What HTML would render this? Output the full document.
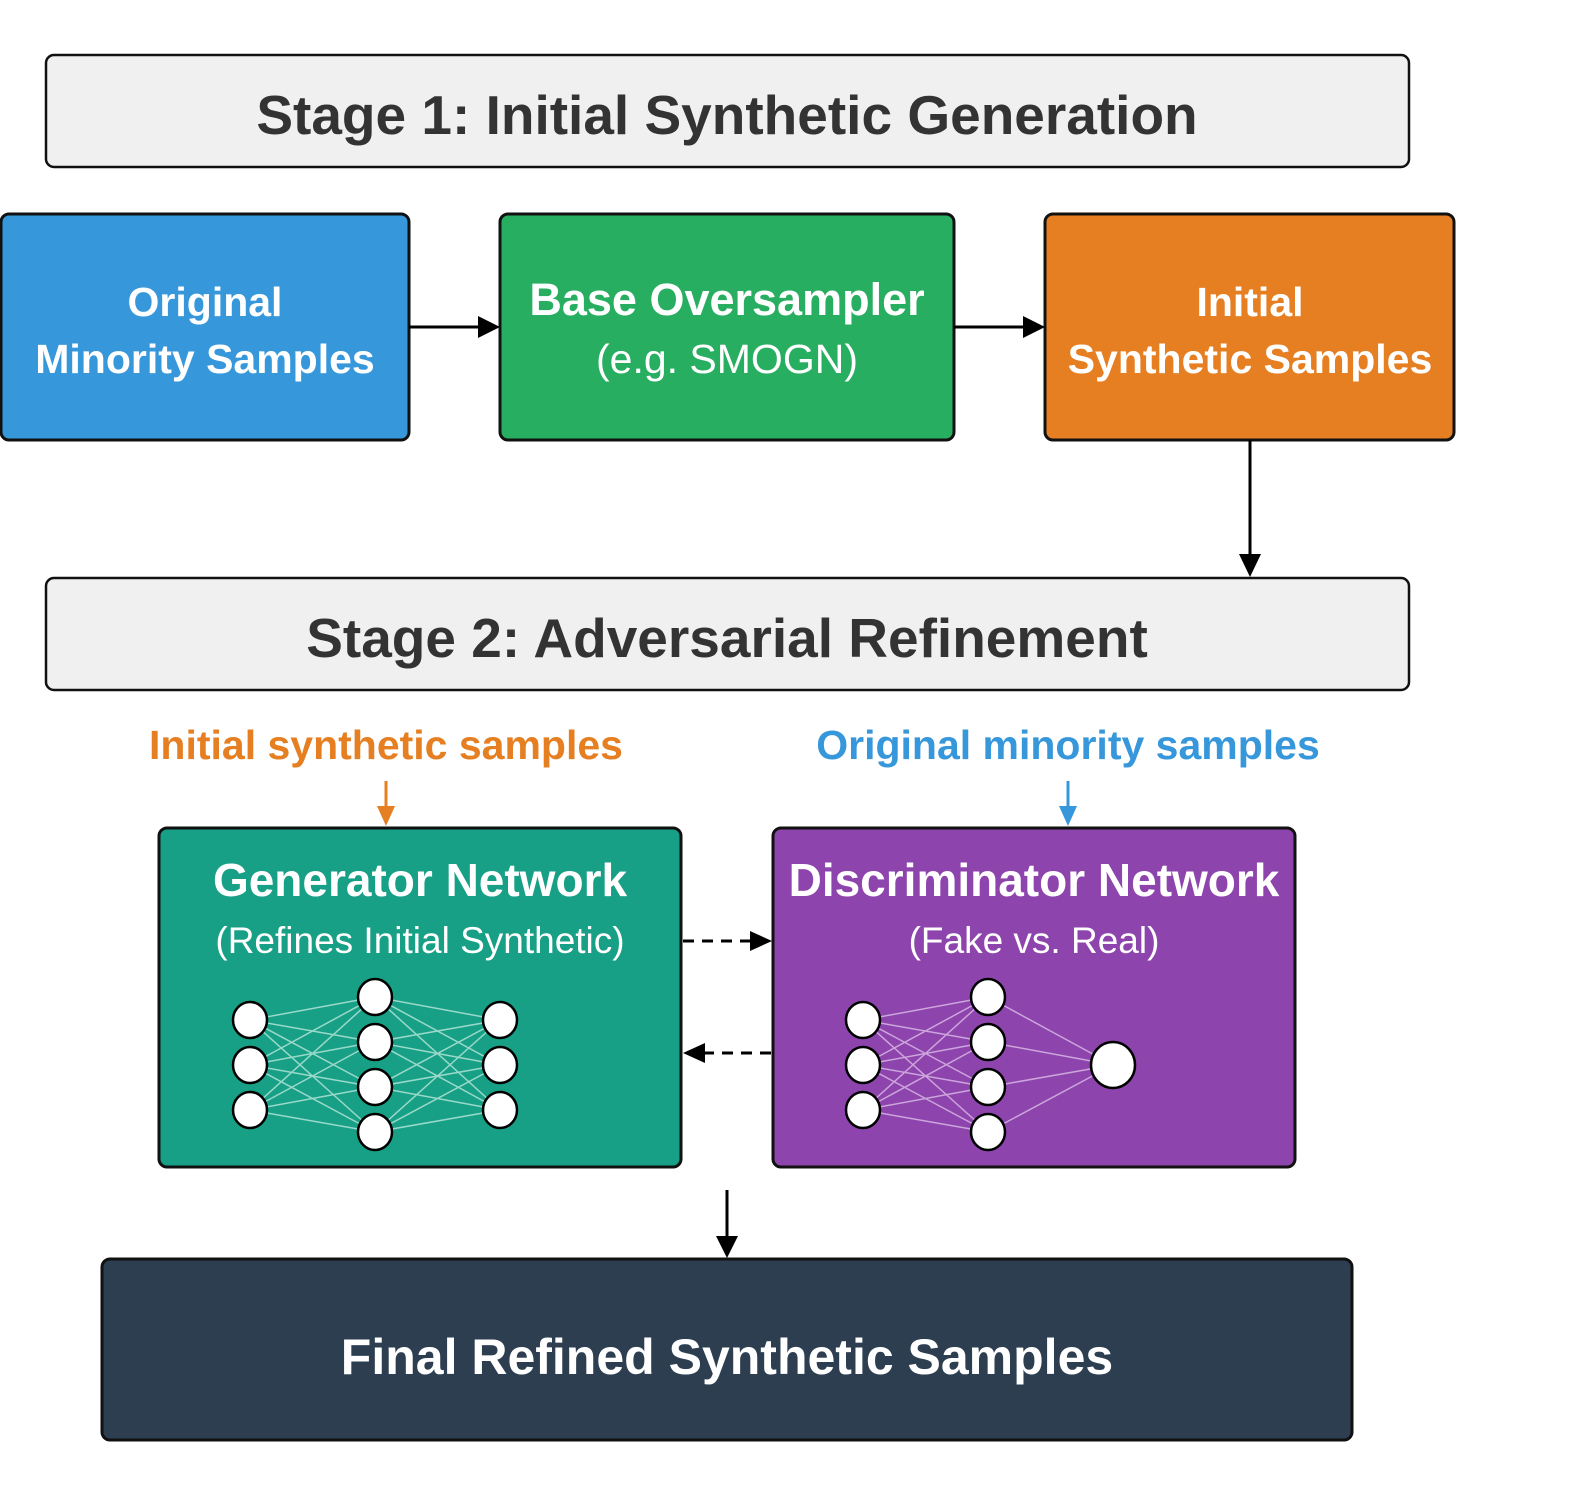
<!DOCTYPE html>
<html><head><meta charset="utf-8"><style>
html,body{margin:0;padding:0;background:#fff}
svg{display:block}
text{font-family:"Liberation Sans",Arial,sans-serif}
</style></head><body>
<svg width="1578" height="1505" viewBox="0 0 1578 1505" xmlns="http://www.w3.org/2000/svg">
<!-- Stage 1 -->
<rect x="46" y="55" width="1363" height="112" rx="8" fill="#f0f0f0" stroke="#111" stroke-width="2.5"/>
<text x="727" y="134" text-anchor="middle" font-size="55" font-weight="bold" fill="#333">Stage 1: Initial Synthetic Generation</text>

<rect x="1" y="214" width="408" height="226" rx="8" fill="#3797db" stroke="#111" stroke-width="3"/>
<text x="205" y="316" text-anchor="middle" font-size="41" font-weight="bold" fill="#fff">Original</text>
<text x="205" y="373" text-anchor="middle" font-size="41" font-weight="bold" fill="#fff">Minority Samples</text>

<rect x="500" y="214" width="454" height="226" rx="8" fill="#28ae60" stroke="#111" stroke-width="3"/>
<text x="727" y="315" text-anchor="middle" font-size="45" font-weight="bold" fill="#fff">Base Oversampler</text>
<text x="727" y="373" text-anchor="middle" font-size="41" fill="#fff">(e.g. SMOGN)</text>

<rect x="1045" y="214" width="409" height="226" rx="8" fill="#e67f22" stroke="#111" stroke-width="3"/>
<text x="1250" y="316" text-anchor="middle" font-size="41" font-weight="bold" fill="#fff">Initial</text>
<text x="1250" y="373" text-anchor="middle" font-size="41" font-weight="bold" fill="#fff">Synthetic Samples</text>

<line x1="409" y1="327" x2="480" y2="327" stroke="#000" stroke-width="3"/>
<polygon points="478,316 500,327 478,338" fill="#000"/>
<line x1="954" y1="327" x2="1025" y2="327" stroke="#000" stroke-width="3"/>
<polygon points="1023,316 1045,327 1023,338" fill="#000"/>
<line x1="1250" y1="440" x2="1250" y2="556" stroke="#000" stroke-width="3"/>
<polygon points="1239,554 1250,577 1261,554" fill="#000"/>

<!-- Stage 2 -->
<rect x="46" y="578" width="1363" height="112" rx="8" fill="#f0f0f0" stroke="#111" stroke-width="2.5"/>
<text x="727" y="657" text-anchor="middle" font-size="55" font-weight="bold" fill="#333">Stage 2: Adversarial Refinement</text>

<text x="386" y="759" text-anchor="middle" font-size="41" font-weight="bold" fill="#e67f22">Initial synthetic samples</text>
<text x="1068" y="759" text-anchor="middle" font-size="41" font-weight="bold" fill="#3797db">Original minority samples</text>
<line x1="386" y1="781" x2="386" y2="810" stroke="#e67f22" stroke-width="3"/>
<polygon points="377,806 386,826 395,806" fill="#e67f22"/>
<line x1="1068" y1="781" x2="1068" y2="810" stroke="#3797db" stroke-width="3"/>
<polygon points="1059,806 1068,826 1077,806" fill="#3797db"/>

<rect x="159" y="828" width="522" height="339" rx="8" fill="#17a086" stroke="#111" stroke-width="3"/>
<text x="420" y="896" text-anchor="middle" font-size="46" font-weight="bold" fill="#fff">Generator Network</text>
<text x="420" y="953" text-anchor="middle" font-size="37" fill="#fff">(Refines Initial Synthetic)</text>

<rect x="773" y="828" width="522" height="339" rx="8" fill="#8e44ad" stroke="#111" stroke-width="3"/>
<text x="1034" y="896" text-anchor="middle" font-size="46" font-weight="bold" fill="#fff">Discriminator Network</text>
<text x="1034" y="953" text-anchor="middle" font-size="37" fill="#fff">(Fake vs. Real)</text>

<!-- dashed arrows -->
<line x1="683" y1="941" x2="752" y2="941" stroke="#000" stroke-width="3" stroke-dasharray="11,8"/>
<polygon points="750,931 772,941 750,951" fill="#000"/>
<line x1="771" y1="1053" x2="704" y2="1053" stroke="#000" stroke-width="3" stroke-dasharray="11,8"/>
<polygon points="705,1043 683,1053 705,1063" fill="#000"/>

<!-- Generator NN -->
<g stroke="#a8e0d2" stroke-width="1.5" opacity="0.9">
<path d="M250 1020L375 997M250 1020L375 1042M250 1020L375 1087M250 1020L375 1132
M250 1065L375 997M250 1065L375 1042M250 1065L375 1087M250 1065L375 1132
M250 1110L375 997M250 1110L375 1042M250 1110L375 1087M250 1110L375 1132
M375 997L500 1020M375 997L500 1065M375 997L500 1110
M375 1042L500 1020M375 1042L500 1065M375 1042L500 1110
M375 1087L500 1020M375 1087L500 1065M375 1087L500 1110
M375 1132L500 1020M375 1132L500 1065M375 1132L500 1110"/>
</g>
<g fill="#fff" stroke="#000" stroke-width="2.5">
<ellipse cx="250" cy="1020" rx="17" ry="18"/><ellipse cx="250" cy="1065" rx="17" ry="18"/><ellipse cx="250" cy="1110" rx="17" ry="18"/>
<ellipse cx="375" cy="997" rx="17" ry="18"/><ellipse cx="375" cy="1042" rx="17" ry="18"/><ellipse cx="375" cy="1087" rx="17" ry="18"/><ellipse cx="375" cy="1132" rx="17" ry="18"/>
<ellipse cx="500" cy="1020" rx="17" ry="18"/><ellipse cx="500" cy="1065" rx="17" ry="18"/><ellipse cx="500" cy="1110" rx="17" ry="18"/>
</g>

<!-- Discriminator NN -->
<g stroke="#d2b0e0" stroke-width="1.5" opacity="0.9">
<path d="M863 1020L988 997M863 1020L988 1042M863 1020L988 1087M863 1020L988 1132
M863 1065L988 997M863 1065L988 1042M863 1065L988 1087M863 1065L988 1132
M863 1110L988 997M863 1110L988 1042M863 1110L988 1087M863 1110L988 1132
M988 997L1113 1065M988 1042L1113 1065M988 1087L1113 1065M988 1132L1113 1065"/>
</g>
<g fill="#fff" stroke="#000" stroke-width="2.5">
<ellipse cx="863" cy="1020" rx="17" ry="18"/><ellipse cx="863" cy="1065" rx="17" ry="18"/><ellipse cx="863" cy="1110" rx="17" ry="18"/>
<ellipse cx="988" cy="997" rx="17" ry="18"/><ellipse cx="988" cy="1042" rx="17" ry="18"/><ellipse cx="988" cy="1087" rx="17" ry="18"/><ellipse cx="988" cy="1132" rx="17" ry="18"/>
<ellipse cx="1113" cy="1065" rx="22" ry="23"/>
</g>

<line x1="727" y1="1190" x2="727" y2="1238" stroke="#000" stroke-width="3"/>
<polygon points="716,1236 727,1258 738,1236" fill="#000"/>

<rect x="102" y="1259" width="1250" height="181" rx="8" fill="#2c3e50" stroke="#111" stroke-width="3"/>
<text x="727" y="1374" text-anchor="middle" font-size="50" font-weight="bold" fill="#fff">Final Refined Synthetic Samples</text>
</svg>
</body></html>
